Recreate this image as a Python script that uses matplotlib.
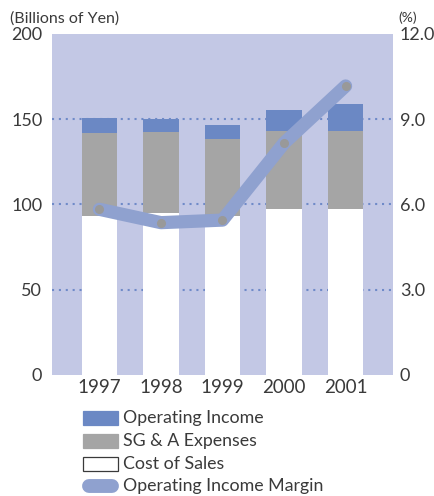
import matplotlib
matplotlib.use("Agg")
import matplotlib.pyplot as plt
from matplotlib.lines import Line2D
from matplotlib.patches import Rectangle

plt.rcParams["font.family"] = ["Lato", "DejaVu Sans"]

years = ["1997", "1998", "1999", "2000", "2001"]
cost_of_sales = [93.3, 94.8, 93.3, 97.5, 97.5]
sga_expenses = [48.6, 47.7, 45.1, 45.6, 45.6]
operating_income = [8.8, 7.6, 8.2, 12.3, 15.9]
op_margin = [5.83, 5.36, 5.45, 8.16, 10.17]

left_ticks = [0, 50, 100, 150, 200]
right_ticks = [0, 3, 6, 9, 12]
right_labels = ["0", "3.0", "6.0", "9.0", "12.0"]

legend_labels = ["Operating Income", "SG & A Expenses", "Cost of Sales",
                 "Operating Income Margin"]

BG = "#c3c8e5"
C_OI = "#6b88c4"
C_SGA = "#a5a5a5"
C_LINE = "#8fa1cf"
C_DOT = "#999999"
C_GRID = "#6f8ac8"
C_TEXT = "#3a3a3a"

fig = plt.figure(figsize=(4.34, 4.96), dpi=100)
ax = fig.add_axes([0.1198, 0.2440, 0.7857, 0.6875])
ax.set_facecolor(BG)

x = list(range(len(years)))
w = 0.58
ax.bar(x, cost_of_sales, w, color="white", zorder=2)
sga_bottom = cost_of_sales
ax.bar(x, sga_expenses, w, bottom=sga_bottom, color=C_SGA, zorder=2)
oi_bottom = [a + b for a, b in zip(cost_of_sales, sga_expenses)]
ax.bar(x, operating_income, w, bottom=oi_bottom, color=C_OI, zorder=2)

for v in [50, 100, 150]:
    ax.axhline(v, color=C_GRID, linestyle=(0, (1, 2.3)), linewidth=1.5,
               zorder=1)

ax.set_xlim(-0.77, 4.77)
ax.set_ylim(0, 200)
ax.set_yticks(left_ticks)
ax.set_xticks(x)
ax.set_xticklabels(years)
ax.tick_params(axis="y", length=0, pad=7, labelsize=13, colors=C_TEXT)
ax.tick_params(axis="x", length=0, pad=3, labelsize=13.5, colors=C_TEXT)
for s in ax.spines.values():
    s.set_visible(False)

ax2 = ax.twinx()
ax2.set_ylim(0, 12)
ax2.set_yticks(right_ticks)
ax2.set_yticklabels(right_labels)
ax2.tick_params(axis="y", length=0, pad=5, labelsize=13, colors=C_TEXT)
for s in ax2.spines.values():
    s.set_visible(False)
ax2.plot(x, op_margin, color=C_LINE, linewidth=9.5, solid_capstyle="round",
         solid_joinstyle="round", zorder=3)
ax2.plot(x, op_margin, "o", color=C_DOT, markersize=5.5, zorder=4)

fig.text(0.023, 0.962, "(Billions of Yen)", fontsize=11.5, color=C_TEXT,
         va="center", ha="left")
fig.text(0.917, 0.965, "(%)", fontsize=10, color=C_TEXT,
         va="center", ha="left")

# legend, drawn by hand
rows_y = [418, 441, 464, 486]
H = 496.0
W = 434.0
for i, (lab, yy) in enumerate(zip(legend_labels, rows_y)):
    fy = 1 - yy / H
    if i < 3:
        fc = [C_OI, C_SGA, "white"][i]
        ec = C_TEXT if i == 2 else fc
        fig.patches.append(Rectangle((83 / W, fy - 7 / H), 35 / W, 14 / H,
                                     transform=fig.transFigure,
                                     facecolor=fc, edgecolor=ec,
                                     linewidth=0.9))
    else:
        fig.lines.append(Line2D([89 / W, 112 / W], [fy, fy],
                                transform=fig.transFigure, color=C_LINE,
                                linewidth=10, solid_capstyle="round"))
    fig.text(123 / W, fy, lab, fontsize=12.8, color=C_TEXT,
             va="center", ha="left")

fig.savefig("out.png", dpi=100)
